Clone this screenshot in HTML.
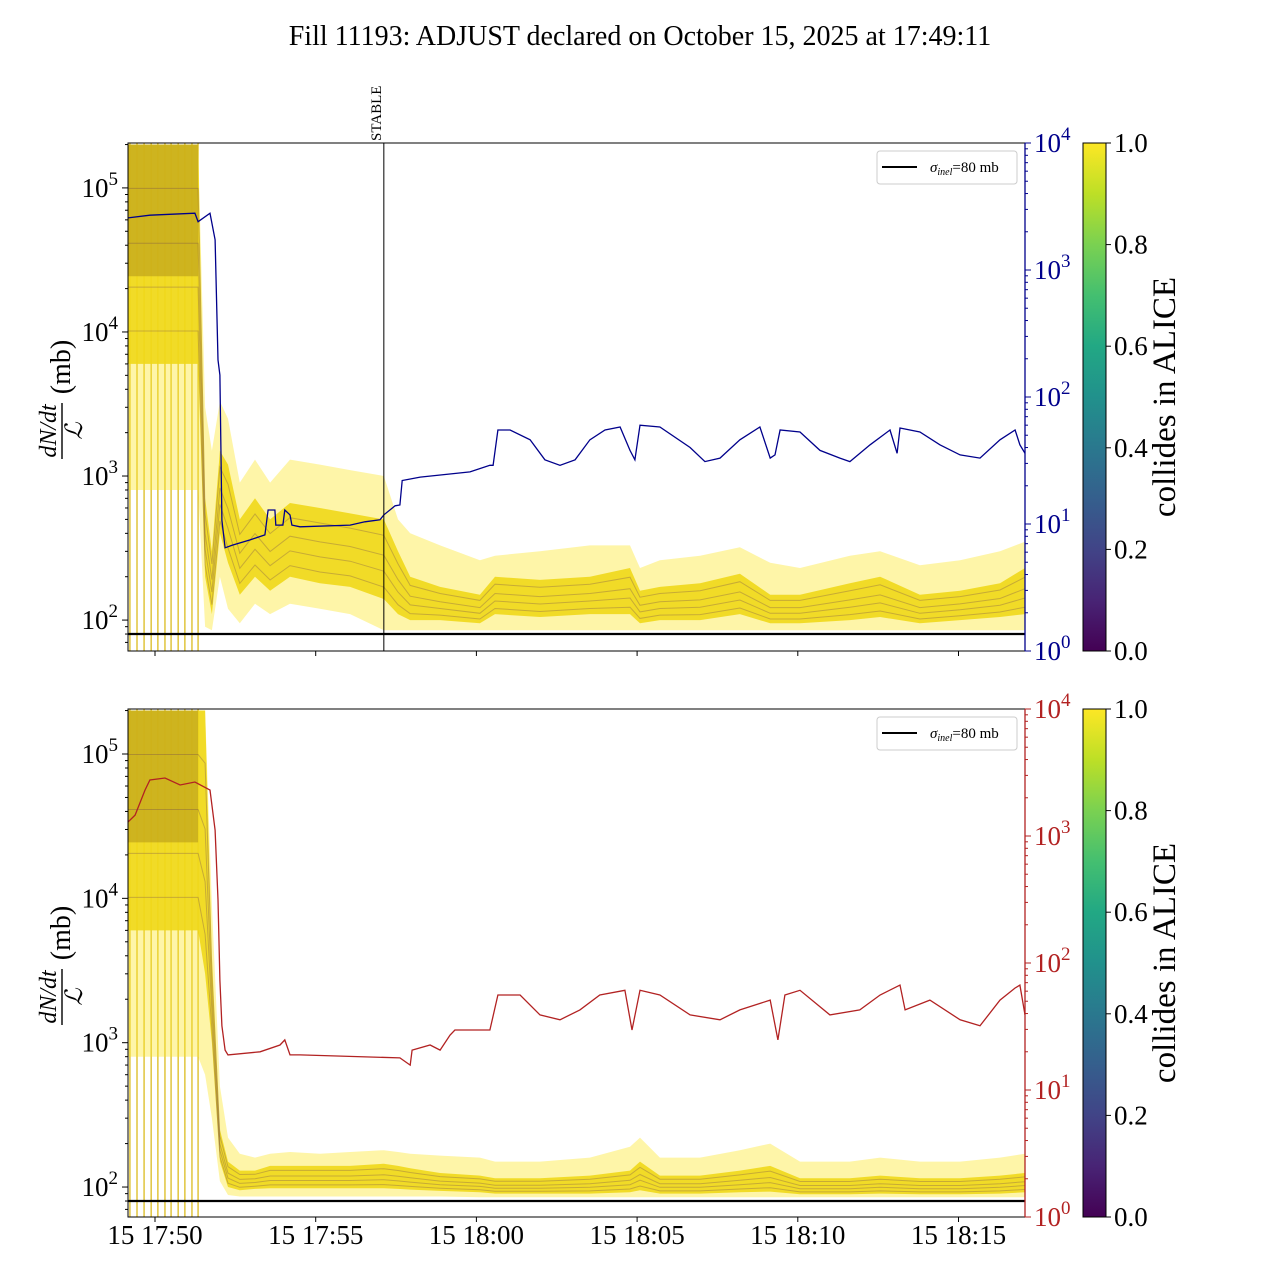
<!DOCTYPE html>
<html><head><meta charset="utf-8"><style>
html,body{margin:0;padding:0;background:#fff}
svg{display:block;font-family:"Liberation Serif",serif}
</style></head><body>
<svg id="chart" width="1280" height="1280" viewBox="0 0 1280 1280" xmlns="http://www.w3.org/2000/svg">
<defs>
<linearGradient id="viridis" x1="0" y1="1" x2="0" y2="0">
<stop offset="0" stop-color="#440154"/><stop offset="0.1" stop-color="#482475"/><stop offset="0.2" stop-color="#414487"/><stop offset="0.3" stop-color="#355f8d"/><stop offset="0.4" stop-color="#2a788e"/><stop offset="0.5" stop-color="#21918c"/><stop offset="0.6" stop-color="#22a884"/><stop offset="0.7" stop-color="#44bf70"/><stop offset="0.8" stop-color="#7ad151"/><stop offset="0.9" stop-color="#bddf26"/><stop offset="1" stop-color="#fde725"/>
</linearGradient>
<clipPath id="clipTop"><rect x="128" y="143" width="897" height="508"/></clipPath>
<clipPath id="clipBot"><rect x="128" y="709" width="897" height="508"/></clipPath>
</defs>
<text x="640" y="45" font-size="28" text-anchor="middle">Fill 11193: ADJUST declared on October 15, 2025 at 17:49:11</text>
</svg>
<script>
// ---- data (time in minutes after 17:49:00) ----
const bandTimes=[0.16,2.34,2.56,2.77,3.02,3.27,3.64,4.11,4.58,5.20,6.13,7.07,8.12,8.56,8.94,9.87,11.11,11.58,12.98,14.53,15.78,16.09,16.71,17.96,19.20,20.14,21.07,22.62,23.56,24.80,26.05,27.29,28.07];
const topUp=[2e5,2e5,3000,1500,3300,2500,900,1300,900,1300,1200,1100,1000,500,400,330,260,280,300,330,330,230,260,280,320,250,230,280,300,240,260,300,350];
const topCoreHi=[2e5,2e5,700,300,1500,1200,500,700,500,650,600,550,500,300,200,170,150,200,190,200,230,160,170,180,210,150,150,180,200,150,160,180,230];
const topCoreLo=[6000,6000,200,110,400,250,150,200,160,200,180,170,140,110,100,100,95,110,105,110,110,95,100,100,110,95,95,100,105,95,100,105,110];
const topLo=[800,800,90,85,200,120,95,130,110,130,120,110,85,85,85,85,85,85,85,85,85,85,85,85,85,85,85,85,85,85,85,85,85];
const botUp=[2e5,2e5,2e5,9000,500,220,170,160,170,175,170,175,180,175,170,165,160,150,150,160,190,220,160,160,180,200,150,150,160,150,150,160,170];
const botCoreHi=[2e5,2e5,2e5,4000,250,150,130,130,140,140,140,140,145,140,135,125,120,115,115,120,130,150,120,120,130,140,115,115,120,115,115,120,125];
const botCoreLo=[6000,6000,3000,1000,150,100,95,97,98,98,98,98,98,97,96,94,92,90,90,90,92,95,90,90,92,93,89,89,90,89,89,90,92];
const botLo=[800,800,600,300,110,88,86,86,86,86,86,86,86,86,86,86,85,85,85,85,85,85,85,85,85,85,85,85,85,85,85,85,85];
const spikeTimes=[0.22,0.44,0.66,0.88,1.09,1.31,1.50,1.72,1.93,2.15,2.34];
const blueT=[0.16,0.84,2.24,2.34,2.71,2.87,2.96,3.02,3.08,3.18,3.40,3.96,4.42,4.52,4.73,4.76,4.98,5.04,5.20,5.26,5.51,7.07,7.53,8.0,8.12,8.47,8.62,8.69,9.25,10.80,11.42,11.52,11.67,12.05,12.67,13.13,13.60,14.07,14.53,15.0,15.47,15.78,15.93,16.09,16.71,17.65,18.11,18.58,19.20,19.82,20.14,20.29,20.45,21.07,21.69,22.31,22.62,23.25,23.87,24.09,24.18,24.80,25.42,26.05,26.67,27.29,27.76,27.91,28.07];
const blueV=[2570,2700,2800,2400,2800,1730,196,149,10.7,6.5,6.8,7.5,8.2,12.9,12.9,9.8,9.8,12.9,11.8,9.8,9.5,9.8,10.4,10.8,11.8,13.9,14.1,22,23.4,25.7,29,29,55,55,46,32,29,32,46,55,58,38,32,60,58,40,31,33,46,58,33,35,55,53,38,33,31,42,55,36,57,53,42,35,33,46,55,42,36];
const redT=[0.16,0.38,0.69,0.84,1.31,1.78,2.24,2.71,2.87,2.96,3.02,3.08,3.18,3.27,4.27,4.89,5.04,5.20,5.51,8.62,8.94,9.0,9.56,9.87,10.18,10.33,11.42,11.67,12.36,12.98,13.60,14.22,14.84,15.62,15.84,16.09,16.71,17.65,18.58,19.20,20.14,20.38,20.60,21.07,22.0,22.93,23.56,24.18,24.34,25.11,26.05,26.67,27.29,27.76,27.91,28.07];
const redV=[1290,1460,2300,2760,2860,2520,2660,2300,1110,315,73,32,20.6,18.9,20,22.6,24.8,18.9,18.9,17.9,15.7,20.6,22.6,20.6,27,29.7,29.7,56,56,39,35.7,42.7,56,61,29.7,61,56,39,35.7,42.7,51,24.8,56,61,39,42.7,56,67,42.7,51,35.7,32,51,63.5,67,39];
const xTickT=[1,6,11,16,21,26];
const xTickLabels=["15 17:50","15 17:55","15 18:00","15 18:05","15 18:10","15 18:15"];
const cbTicks=[0,0.2,0.4,0.6,0.8,1.0];
const stableT=8.12;
const sigmaInel=80;

const NS="http://www.w3.org/2000/svg";
const svg=document.getElementById('chart');
function el(tag,attrs,parent,txt){const e=document.createElementNS(NS,tag);for(const k in attrs)e.setAttribute(k,attrs[k]);if(txt!==undefined)e.textContent=txt;(parent||svg).appendChild(e);return e;}
const X0=128,X1=1025;
function xs(t){return 155+(t-1)*32.14;}
const panels=[
 {name:'top',y0:143,y1:651,lmin:Math.log10(61),lmax:Math.log10(2.05e5),clip:'clipTop',up:topUp,hi:topCoreHi,lo2:topCoreLo,lo:topLo,lineT:blueT,lineV:blueV,col:'#00008b',showX:false},
 {name:'bottom',y0:709,y1:1217,lmin:Math.log10(62),lmax:Math.log10(2.05e5),clip:'clipBot',up:botUp,hi:botCoreHi,lo2:botCoreLo,lo:botLo,lineT:redT,lineV:redV,col:'#b22222',showX:true}
];
panels.forEach(p=>{
 const H=p.y1-p.y0;
 const yl=v=>p.y1-(Math.log10(v)-p.lmin)/(p.lmax-p.lmin)*H;
 const yr=v=>p.y1-Math.log10(v)/4*H;
 const g=el('g',{'clip-path':'url(#'+p.clip+')'});
 
 
 spikeTimes.forEach(t=>{
  const l=el('line',{x1:xs(t),x2:xs(t),y1:p.y0,y2:p.y1,stroke:'#d8b60c','stroke-width':1.2},g);
  
  
 });
 function band(a,b,fill,op,name){
  let d='';
  bandTimes.forEach((t,i)=>{d+=(i?'L':'M')+xs(t).toFixed(1)+','+yl(a[i]).toFixed(1);});
  for(let i=bandTimes.length-1;i>=0;i--)d+='L'+xs(bandTimes[i]).toFixed(1)+','+yl(b[i]).toFixed(1);
  const e=el('path',{d:d+'Z',fill:fill,'fill-opacity':op},g);
  
  
 }
 band(p.up,p.lo,'#fde725',0.4,'envelope-band');
 band(p.hi,p.lo2,'#f0d818',0.9,'core-band');
 let d='';
 bandTimes.forEach((t,i)=>{if(t<=2.34){d+=(d?'L':'M')+xs(t).toFixed(1)+','+yl(p.hi[i]).toFixed(1);}});
 for(let i=bandTimes.length-1;i>=0;i--){if(bandTimes[i]<=2.34)d+='L'+xs(bandTimes[i]).toFixed(1)+','+yl(Math.pow(p.lo2[i],0.6)*Math.pow(p.hi[i],0.4)).toFixed(1);}
 const er=el('path',{d:d+'Z',fill:'#b89a1a','fill-opacity':0.6},g);
 
 
 [0.15,0.35,0.55,0.8].forEach(f=>{
  let dd='';
  bandTimes.forEach((t,i)=>{const v=Math.pow(p.lo2[i],1-f)*Math.pow(p.hi[i],f);dd+=(i?'L':'M')+xs(t).toFixed(1)+','+yl(v).toFixed(1);});
  const pl=el('path',{d:dd,fill:'none',stroke:'#4a1a60','stroke-opacity':0.25,'stroke-width':1},g);
  
  
 });
 const sl=el('line',{x1:X0,x2:X1,y1:yl(sigmaInel),y2:yl(sigmaInel),stroke:'#000','stroke-width':2.2},g);
 
 
 let ld='';
 p.lineT.forEach((t,i)=>{ld+=(i?'L':'M')+xs(t).toFixed(1)+','+yr(p.lineV[i]).toFixed(1);});
 const ln=el('path',{d:ld,fill:'none',stroke:p.col,'stroke-width':1.3},g);
 
 
 if(p.name==='top'){
  const st=el('line',{x1:xs(stableT),x2:xs(stableT),y1:p.y0,y2:p.y1,stroke:'#000','stroke-width':1});
  
  
  const tx=el('text',{x:0,y:0,'font-size':15,transform:'translate('+(xs(stableT)-3)+','+(p.y0-2)+') rotate(-90)'},svg,'STABLE');
  
  
 }
 const fr=el('rect',{x:X0,y:p.y0,width:X1-X0,height:H,fill:'none',stroke:'#000','stroke-width':1});
 
 
 const rs=el('line',{x1:X1,x2:X1,y1:p.y0,y2:p.y1,stroke:p.col,'stroke-width':1.3});
 
 
 for(let e=1;e<=5;e++){for(let m=1;m<10;m++){const v=m*Math.pow(10,e);const lg=Math.log10(v);if(lg<p.lmin||lg>p.lmax)continue;const y=yl(v);
  el('line',{x1:X0,x2:X0-(m===1?6:3),y1:y,y2:y,stroke:'#000','stroke-width':1});
  if(m===1){const t=el('text',{x:X0-10,y:y+9,'font-size':27,'text-anchor':'end'});
   el('tspan',{},t,'10');el('tspan',{dy:-12,'font-size':19},t,String(e));}
 }}
 for(let e=0;e<=4;e++){for(let m=1;m<10;m++){const v=m*Math.pow(10,e);if(Math.log10(v)>4)continue;const y=yr(v);
  el('line',{x1:X1,x2:X1+(m===1?6:3),y1:y,y2:y,stroke:p.col,'stroke-width':1});
  if(m===1){const t=el('text',{x:X1+9,y:y+9,'font-size':27,fill:p.col});
   el('tspan',{},t,'10');el('tspan',{dy:-12,'font-size':19},t,String(e));}
 }}
 xTickT.forEach((t,i)=>{const x=xs(t);el('line',{x1:x,x2:x,y1:p.y1,y2:p.y1+5,stroke:'#000'});
  if(p.showX){const lb=el('text',{x:x,y:p.y1+27,'font-size':27,'text-anchor':'middle'},svg,xTickLabels[i]);}});
 const cy=(p.y0+p.y1)/2;
 const yg=el('g',{transform:'translate(64,'+cy+') rotate(-90)'});
 
 
 el('text',{x:-34,y:-8,'font-size':24,'font-style':'italic','text-anchor':'middle'},yg,'dN/dt');
 el('line',{x1:-62,x2:-6,y1:-2,y2:-2,stroke:'#000','stroke-width':1.4},yg);
 el('text',{x:-34,y:18,'font-size':24,'font-style':'italic','text-anchor':'middle'},yg,'ℒ');
 el('text',{x:30,y:6,'font-size':28,'text-anchor':'middle'},yg,'(mb)');
 const lg=el('g',{});
 
 
 el('rect',{x:877,y:p.y0+8,width:140,height:33,rx:3,fill:'#fff',stroke:'#ccc'},lg);
 el('line',{x1:882,x2:917,y1:p.y0+24,y2:p.y0+24,stroke:'#000','stroke-width':2},lg);
 const lt=el('text',{x:930,y:p.y0+29,'font-size':15},lg);
 el('tspan',{'font-style':'italic'},lt,'σ');
 el('tspan',{'font-style':'italic','font-size':10,dy:3},lt,'inel');
 el('tspan',{dy:-3},lt,'=80 mb');
 const cb=el('rect',{x:1083,y:p.y0,width:23,height:H,fill:'url(#viridis)',stroke:'#000','stroke-width':1});
 
 
 cbTicks.forEach(v=>{const y=p.y1-v*H;el('line',{x1:1106,x2:1111,y1:y,y2:y,stroke:'#000'});
  const t=el('text',{x:1114,y:y+9,'font-size':27},svg,v.toFixed(1));});
 const cl=el('text',{x:0,y:0,'font-size':33,'text-anchor':'middle',transform:'translate(1175,'+cy+') rotate(-90)'},svg,'collides in ALICE');
 
 
});
</script>
</body></html>
